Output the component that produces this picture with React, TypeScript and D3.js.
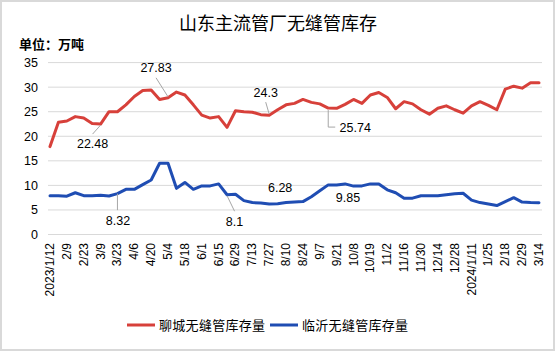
import React from "react";
import * as d3 from "d3";

const categories: string[] = [
  "2023/1/12", "2/2", "2/9", "2/16", "2/23", "3/2", "3/9", "3/16", "3/23", "3/30",
  "4/6", "4/13", "4/20", "4/27", "5/4", "5/11", "5/18", "5/25", "6/1", "6/8",
  "6/15", "6/21", "6/29", "7/6", "7/13", "7/20", "7/27", "8/3", "8/10", "8/17",
  "8/24", "8/31", "9/7", "9/14", "9/21", "9/28", "10/8", "10/12", "10/19", "10/26",
  "11/2", "11/9", "11/16", "11/23", "11/30", "12/7", "12/14", "12/21", "12/28", "2024/1/4",
  "2024/1/11", "1/18", "1/25", "2/1", "2/18", "2/22", "2/29", "3/7", "3/14",
];

const liaocheng: number[] = [
  17.9, 22.85, 23.1, 24.0, 23.7, 22.6, 22.48, 25.0, 25.0, 26.4,
  28.1, 29.3, 29.4, 27.5, 27.83, 29.0, 28.4, 26.4, 24.3, 23.7,
  24.0, 21.8, 25.2, 25.0, 24.9, 24.4, 24.3, 25.4, 26.4, 26.7,
  27.5, 26.9, 26.6, 25.74, 25.7, 26.5, 27.5, 26.7, 28.4, 28.9,
  27.9, 25.6, 27.05, 26.6, 25.4, 24.5, 25.7, 26.2, 25.4, 24.7,
  26.2, 27.05, 26.3, 25.4, 29.6, 30.2, 29.8, 30.9, 30.9,
];

const linyi: number[] = [
  7.9, 7.9, 7.8, 8.5, 7.9, 7.9, 8.0, 7.85, 8.32, 9.2,
  9.2, 10.15, 11.1, 14.5, 14.5, 9.4, 10.6, 9.2, 9.9, 9.9,
  10.3, 8.1, 8.2, 6.9, 6.5, 6.4, 6.2, 6.28, 6.5, 6.6,
  6.7, 7.7, 8.9, 10.1, 10.1, 10.3, 9.85, 9.9, 10.3, 10.3,
  9.1, 8.5, 7.4, 7.4, 7.9, 7.9, 7.9, 8.1, 8.3, 8.4,
  7.0, 6.5, 6.2, 5.9, 6.7, 7.5, 6.6, 6.5, 6.45,
];

const yTicks: number[] = [0, 5, 10, 15, 20, 25, 30, 35];
const seriesNames: string[] = ["聊城无缝管库存量", "临沂无缝管库存量"];
const title = "山东主流管厂无缝管库存";
const unitText = "单位：万吨";

// annotated points: series index, category index
const annoSeries: number[] = [0, 0, 0, 0, 1, 1, 1, 1];
const annoIndex: number[] = [6, 14, 26, 33, 8, 21, 27, 36];

const W = 555;
const H = 351;
const RED = "#d7403a";
const BLUE = "#1f4db3";
const FONT = "'Liberation Sans', Arial, 'Noto Sans CJK SC', sans-serif";
const CJK = "'Noto Sans CJK SC', 'Liberation Sans', sans-serif";

// label layout (offset of label centre from its point, leader type)
const annoLayout = [
  { dx: -8, dy: 20, leader: "diag" },
  { dx: -12, dy: -30, leader: "diag" },
  { dx: -3.5, dy: -23, leader: "diag" },
  { dx: 27, dy: 20, leader: "elbow" },
  { dx: 0.5, dy: 26.5, leader: "vert" },
  { dx: 7.5, dy: 26.5, leader: "diag" },
  { dx: 2.5, dy: -16, leader: "none" },
  { dx: -5.5, dy: 12, leader: "none" },
];

export default function App() {
  const x = d3.scalePoint<string>().domain(categories).range([50, 539]);
  const y = d3.scaleLinear().domain([0, 35]).range([234.5, 62.6]);
  const seriesData = [liaocheng, linyi];
  const colors = [RED, BLUE];

  const line = (vals: number[]) =>
    d3
      .line<number>()
      .x((_, i) => x(categories[i]) as number)
      .y((d) => y(d))(vals) as string;

  return (
    <svg
      width={W}
      height={H}
      style={{ position: "absolute", left: 0, top: 0, background: "#fff" }}
    >
      <rect x={0} y={0} width={W} height={H} fill="#fff" />
      <rect x={1} y={1} width={W - 2} height={H - 2} fill="none" stroke="#d9d9d9" strokeWidth={2} />
      <text x={278} y={30} textAnchor="middle" fontFamily={CJK} fontSize={18} fill="#000">
        {title}
      </text>
      <text x={19} y={49} fontFamily={CJK} fontSize={13} fontWeight="bold" fill="#000">
        {unitText}
      </text>

      {yTicks.map((t) => (
        <g key={t}>
          <line x1={48} x2={542} y1={y(t)} y2={y(t)} stroke="#d9d9d9" strokeWidth={1} />
          <text
            x={38}
            y={y(t)}
            dy="0.35em"
            textAnchor="end"
            fontFamily={FONT}
            fontSize={12.5}
            fill="#000"
          >
            {t}
          </text>
        </g>
      ))}

      {categories.map((c, i) =>
        i % 2 === 0 ? (
          <text
            key={c}
            transform={`translate(${(x(c) as number) + 4},243) rotate(-90)`}
            textAnchor="end"
            fontFamily={FONT}
            fontSize={12}
            fill="#000"
          >
            {c}
          </text>
        ) : null
      )}

      {seriesData.map((vals, s) => (
        <path
          key={s}
          d={line(vals)}
          fill="none"
          stroke={colors[s]}
          strokeWidth={3}
          strokeLinejoin="round"
          strokeLinecap="round"
        />
      ))}

      {annoIndex.map((idx, k) => {
        const s = annoSeries[k];
        const v = seriesData[s][idx];
        const px = x(categories[idx]) as number;
        const py = y(v);
        const L = annoLayout[k];
        const lx = px + L.dx;
        const ly = py + L.dy;
        let leader: React.ReactNode = null;
        if (L.leader === "diag") {
          const ey = L.dy > 0 ? ly - 10 : ly + 10;
          leader = <line x1={px} y1={py + (L.dy > 0 ? 1 : -1)} x2={lx} y2={ey} stroke="#a6a6a6" strokeWidth={1} />;
        } else if (L.leader === "vert") {
          leader = <line x1={px} y1={py} x2={px} y2={ly - 10} stroke="#a6a6a6" strokeWidth={1} />;
        } else if (L.leader === "elbow") {
          leader = (
            <polyline
              points={`${px},${py + 2} ${px},${ly - 1} ${lx - 20},${ly - 1}`}
              fill="none"
              stroke="#a6a6a6"
              strokeWidth={1}
            />
          );
        }
        return (
          <g key={k}>
            {leader}
            <text
              x={lx}
              y={ly}
              dy="0.35em"
              textAnchor="middle"
              fontFamily={FONT}
              fontSize={12.5}
              fill="#000"
            >
              {String(v)}
            </text>
          </g>
        );
      })}

      {seriesNames.map((n, s) => {
        const x0 = s === 0 ? 127 : 270;
        return (
          <g key={n}>
            <line x1={x0} x2={x0 + 28} y1={325} y2={325} stroke={colors[s]} strokeWidth={3} />
            <text x={x0 + 32} y={325} dy="0.35em" fontFamily={CJK} fontSize={13} fill="#000" letterSpacing={0.3}>
              {n}
            </text>
          </g>
        );
      })}
    </svg>
  );
}
